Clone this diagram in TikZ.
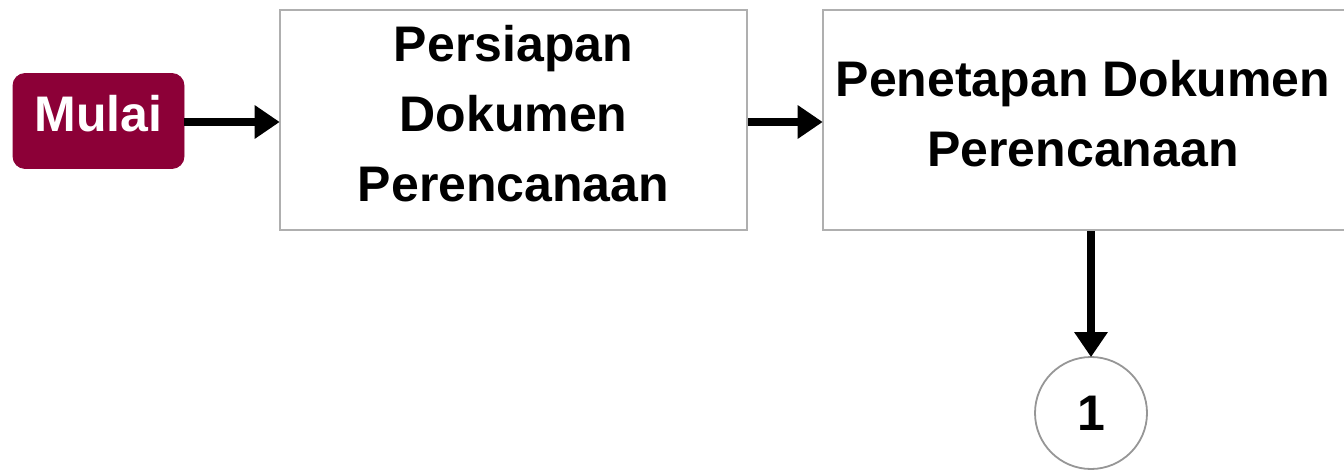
\documentclass[tikz,border=0pt]{standalone}
\usepackage{fontspec}
\setmainfont{Liberation Sans}
\usetikzlibrary{arrows.meta}
\definecolor{crimson}{RGB}{140,0,55}
\definecolor{boxgray}{RGB}{175,175,175}
\definecolor{circgray}{RGB}{150,150,150}
\begin{document}
\begin{tikzpicture}[x=0.5pt,y=-0.5pt,
  lbl/.style={font=\fontsize{25pt}{35pt}\selectfont\bfseries, align=center},
  stepbox/.style={draw=boxgray, line width=1.3pt, fill=white, inner sep=0pt},
  startbox/.style={draw=crimson, fill=crimson, rounded corners=6pt,
    minimum width=85.5pt, minimum height=47.5pt, inner sep=0pt},
  conn/.style={circle, draw=circgray, line width=0.9pt, minimum size=56pt, lbl, inner sep=0pt},
  arr/.style={line width=3.6pt, -{Triangle[length=12.5pt,width=16pt]}, shorten >=-0.5pt}
]
\useasboundingbox (0,0) rectangle (1344,470);
\node[startbox, label={[lbl, text=white, yshift=3.5pt, name=mulait]center:Mulai}] (mulai) at (98.5,121) {};
\node[stepbox, minimum width=233.5pt, minimum height=110pt,
  label={[lbl, yshift=3pt, name=b1t]center:{Persiapan\\Dokumen\\Perencanaan}}] (b1) at (513.5,120) {};
\node[stepbox, minimum width=261pt, minimum height=110pt,
  label={[lbl, yshift=3pt, xshift=-0.5pt, name=b2t]center:{Penetapan Dokumen\\Perencanaan}}] (b2) at (1084,120) {};
\node[conn] (c1) at (1091,413) {1};
\draw[arr] (mulai.east |- 0,122) -- (b1.west |- 0,122);
\draw[arr] (b1.east |- 0,122) -- (b2.west |- 0,122);
\draw[arr] (c1.north |- b2.south) -- (c1.north);
\end{tikzpicture}
\end{document}
